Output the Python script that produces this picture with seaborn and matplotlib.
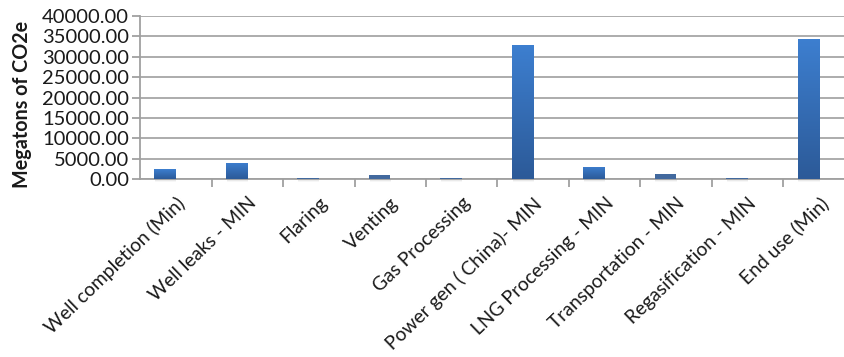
import numpy as np
import pandas as pd
import matplotlib
matplotlib.use("Agg")
import matplotlib.pyplot as plt
import seaborn as sns
from matplotlib.colors import LinearSegmentedColormap
from matplotlib.ticker import FixedLocator, FormatStrFormatter

# Emissions by life-cycle stage (megatons CO2e)
stages = [
    "Well completion (Min)", "Well leaks - MIN", "Flaring", "Venting",
    "Gas Processing", "Power gen ( China)- MIN", "LNG Processing - MIN",
    "Transportation - MIN", "Regasification - MIN", "End use (Min)",
]
min_values = [2450, 4000, 350, 1100, 350, 32900, 2950, 1230, 300, 34400]
max_values = [0, 0, 0, 0, 0, 0, 0, 0, 0, 0]
y_ticks = [0, 5000, 10000, 15000, 20000, 25000, 30000, 35000, 40000]

df = pd.DataFrame({
    "stage": stages * 2,
    "series": ["Min"] * len(stages) + ["Max"] * len(stages),
    "value": min_values + max_values,
})

sns.set_theme(style="white")
plt.rcParams["font.family"] = ["Lato", "DejaVu Sans"]

fig = plt.figure(figsize=(8.45, 3.57), dpi=100)
ax = fig.add_axes([0.1657, 0.4986, 0.8461, 0.4564])

sns.barplot(data=df, x="stage", y="value", hue="series",
            hue_order=["Min", "Max"], order=stages, width=0.6,
            dodge=True, legend=False, linewidth=0, ax=ax,
            palette=["#3366ad", "#3366ad"])

# vertical gradient fill for the bars, with a soft shadow below the base
grad = LinearSegmentedColormap.from_list("bar", ["#2c5a98", "#3d7fd0"])
for p in list(ax.patches):
    h = p.get_height()
    if h <= 0:
        continue
    x0, w = p.get_x(), p.get_width()
    p.set_zorder(2)
    for k, a in enumerate([0.08, 0.05, 0.03]):
        ax.add_patch(plt.Rectangle((x0 + 0.01, -220 * (k + 1)), w,
                                   220 * (k + 1), color="black", alpha=a,
                                   lw=0, zorder=1.5, clip_on=False))
    if h > 1500:
        img = ax.imshow(np.linspace(0, 1, 256).reshape(-1, 1), cmap=grad,
                        origin="lower", aspect="auto",
                        extent=[x0, x0 + w, 0, h], zorder=2.1)
        img.set_clip_path(p)

ax.set_xlim(-0.5, len(stages) - 0.5)
ax.set_ylim(0, 40000)
ax.yaxis.set_major_locator(FixedLocator(y_ticks))
ax.yaxis.set_major_formatter(FormatStrFormatter("%.2f"))
ax.grid(axis="y", color="#a6a6a6", linewidth=1.3)
ax.set_axisbelow(True)

for s in ["top", "right"]:
    ax.spines[s].set_visible(False)
for s in ["left", "bottom"]:
    ax.spines[s].set_color("#a0a0a0")
    ax.spines[s].set_linewidth(1.3)
    ax.spines[s].set_zorder(1.8)

ax.set_xticks(range(len(stages)))
ax.set_xticklabels(stages, rotation=44, ha="right", rotation_mode="anchor",
                   fontsize=13.9, color="#1a1a1a")
ax.set_xticks(np.arange(len(stages)) + 0.5, minor=True)
ax.tick_params(axis="x", which="major", length=0, pad=11)
ax.tick_params(axis="x", which="minor", length=6, width=1.3,
               color="#a0a0a0", direction="out", bottom=True)
ax.tick_params(axis="y", length=6, width=1.3, color="#a0a0a0",
               direction="out", left=True, labelsize=14.5,
               labelcolor="#1a1a1a", pad=2)

ax.set_xlabel("")
ax.set_ylabel("Megatons of CO2e", fontsize=14.2, fontweight="bold",
              color="#1a1a1a")
ax.yaxis.set_label_coords(-0.151, 0.46)

fig.savefig("out.png", dpi=100)
